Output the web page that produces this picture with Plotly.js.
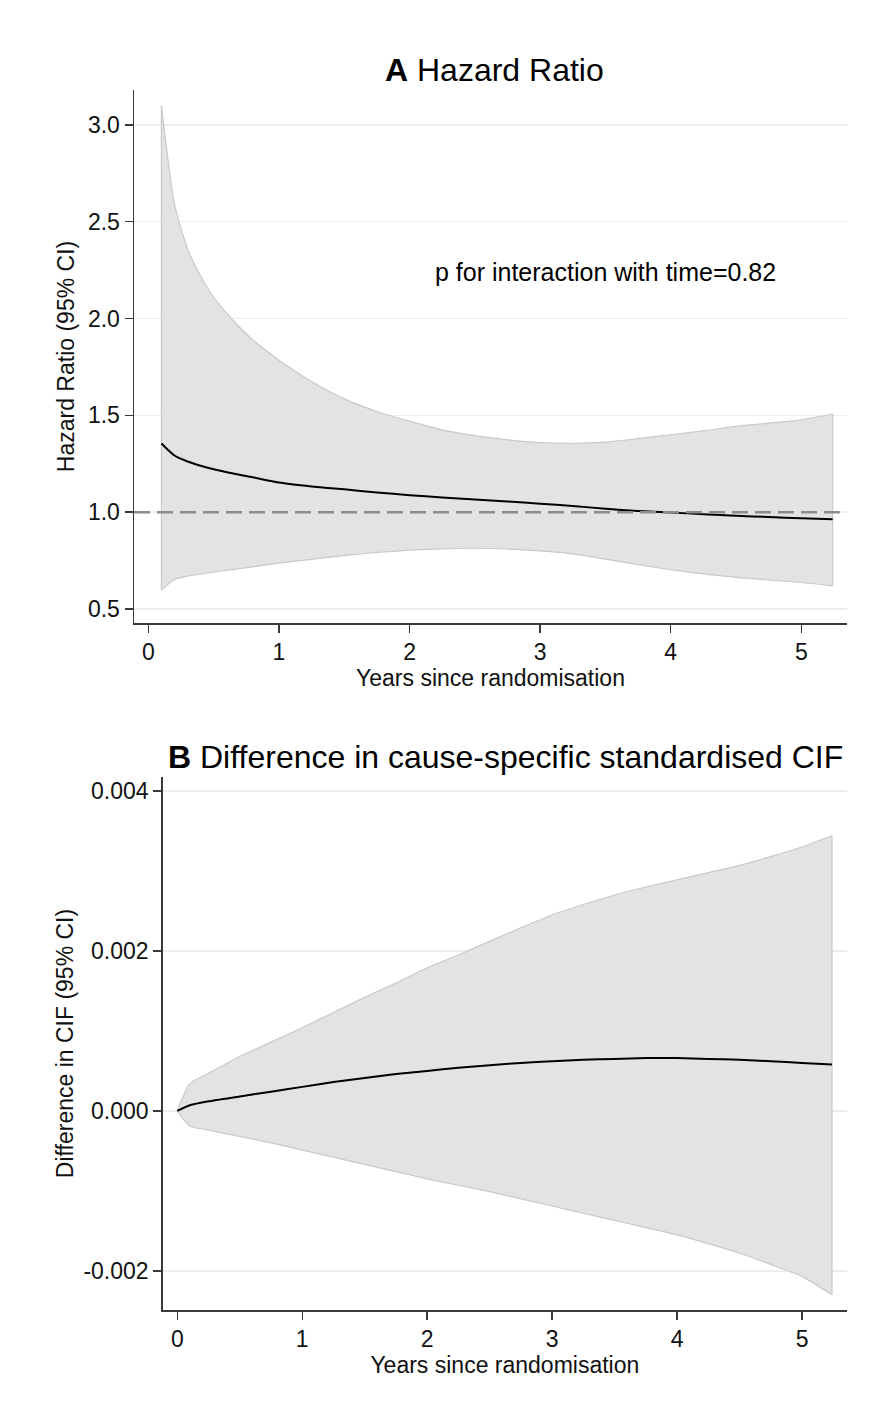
<!DOCTYPE html>
<html>
<head>
<meta charset="utf-8">
<script src="https://cdn.plot.ly/plotly-3.0.1.min.js"></script>
<style>html,body{margin:0;padding:0;background:#fff;}#chart{width:878px;height:1412px;}</style>
</head>
<body>
<div id="chart"></div>
<script>
// ---- Panel A: Hazard ratio over time ----
const yearsA = [0.1,0.2,0.3,0.4,0.5,0.65,0.8,1.0,1.25,1.5,1.75,2.0,2.25,2.5,2.75,3.0,3.25,3.5,3.75,4.0,4.25,4.5,4.75,5.0,5.24];
const hrEstimate = [1.355,1.293,1.262,1.240,1.222,1.200,1.180,1.153,1.133,1.118,1.102,1.088,1.076,1.066,1.055,1.044,1.032,1.018,1.006,0.998,0.990,0.982,0.975,0.969,0.964];
const hrUpper = [3.10,2.59,2.36,2.22,2.11,1.99,1.89,1.785,1.675,1.585,1.52,1.47,1.425,1.395,1.374,1.360,1.356,1.362,1.380,1.400,1.420,1.443,1.460,1.477,1.507];
const hrLower = [0.598,0.653,0.670,0.681,0.690,0.705,0.718,0.737,0.757,0.776,0.792,0.804,0.811,0.814,0.810,0.800,0.785,0.758,0.729,0.703,0.682,0.664,0.650,0.637,0.620];
const hrReference = 1;
const hrTickVals = [0.5,1.0,1.5,2.0,2.5,3.0];
const hrTickText = ["0.5","1.0","1.5","2.0","2.5","3.0"];
const pInteraction = "p for interaction with time=0.82";

// ---- Panel B: Difference in CIF ----
const yearsB = [0,0.1,0.25,0.5,0.75,1.0,1.25,1.5,1.75,2.0,2.25,2.5,2.75,3.0,3.25,3.5,3.75,4.0,4.25,4.5,4.75,5.0,5.24];
const cifEstimate = [0,0.00007,0.00012,0.00018,0.00024,0.00030,0.00036,0.00041,0.00046,0.00050,0.00054,0.00057,0.00060,0.00062,0.00064,0.00065,0.00066,0.00066,0.00065,0.00064,0.00062,0.00060,0.00058];
const cifUpper = [0,0.00034,0.00047,0.00068,0.00086,0.00104,0.00123,0.00142,0.00160,0.00179,0.00195,0.00212,0.00229,0.00245,0.00258,0.00270,0.00280,0.00289,0.00298,0.00307,0.00318,0.00330,0.00344];
const cifLower = [0,-0.00019,-0.00024,-0.00032,-0.00040,-0.00049,-0.00058,-0.00067,-0.00076,-0.00085,-0.00093,-0.00101,-0.00110,-0.00119,-0.00128,-0.00137,-0.00146,-0.00155,-0.00166,-0.00178,-0.00192,-0.00207,-0.00230];
const cifTickVals = [-0.002,0,0.002,0.004];
const cifTickText = ["-0.002","0.000","0.002","0.004"];

const xTickVals = [0,1,2,3,4,5];
const xTickText = ["0","1","2","3","4","5"];
const xTitle = "Years since randomisation";

const FONT = "Liberation Sans, Arial, sans-serif";
const W = 878, H = 1412;
const px = v => v / W;
const py = v => 1 - v / H;
const BAND_EDGE = "#c9c9c9";

function bandTraces(xs, up, lo, xa, ya) {
  const n = xs.length - 1;
  return [
    {x: xs, y: lo, xaxis: xa, yaxis: ya, type: "scatter", mode: "lines",
     line: {color: BAND_EDGE, width: 1.2, shape: "spline", smoothing: 0.6}, hoverinfo: "skip", showlegend: false},
    {x: xs, y: up, xaxis: xa, yaxis: ya, type: "scatter", mode: "lines", fill: "tonexty",
     fillcolor: "#e3e3e3",
     line: {color: BAND_EDGE, width: 1.2, shape: "spline", smoothing: 0.6}, hoverinfo: "skip", showlegend: false},
    {x: [xs[0], xs[0]], y: [lo[0], up[0]], xaxis: xa, yaxis: ya, type: "scatter", mode: "lines",
     line: {color: BAND_EDGE, width: 1.2}, hoverinfo: "skip", showlegend: false},
    {x: [xs[n], xs[n]], y: [lo[n], up[n]], xaxis: xa, yaxis: ya, type: "scatter", mode: "lines",
     line: {color: BAND_EDGE, width: 1.2}, hoverinfo: "skip", showlegend: false}
  ];
}
function est(xs, ys, xa, ya) {
  return {x: xs, y: ys, xaxis: xa, yaxis: ya, type: "scatter", mode: "lines",
    line: {color: "#000000", width: 2, shape: "spline", smoothing: 0.6}, showlegend: false};
}

const data = [].concat(
  bandTraces(yearsA, hrUpper, hrLower, "x", "y"),
  [est(yearsA, hrEstimate, "x", "y")],
  bandTraces(yearsB, cifUpper, cifLower, "x2", "y2"),
  [est(yearsB, cifEstimate, "x2", "y2")]
);

const axisCommon = {
  showline: true, linecolor: "#3a3a3a", linewidth: 1.5,
  ticks: "outside", ticklen: 8, tickwidth: 1.5, tickcolor: "#3a3a3a",
  tickfont: {family: FONT, size: 23, color: "#111"},
  zeroline: false, fixedrange: true, automargin: false
};
const titleFont = {family: FONT, size: 23, color: "#111"};

const layout = {
  width: W, height: H,
  margin: {l: 0, r: 0, t: 0, b: 0},
  paper_bgcolor: "#ffffff", plot_bgcolor: "#ffffff",
  font: {family: FONT, color: "#111"},
  showlegend: false,
  xaxis: Object.assign({}, axisCommon, {
    domain: [px(134), px(847)], anchor: "y",
    range: [-0.11, 5.35], tickvals: xTickVals, ticktext: xTickText, showgrid: false,
    title: {text: xTitle, font: titleFont, standoff: 0}
  }),
  yaxis: Object.assign({}, axisCommon, {
    domain: [py(623), py(90)], anchor: "x",
    range: [0.428, 3.18], tickvals: hrTickVals, ticktext: hrTickText,
    showgrid: true, gridcolor: "#e7eff0", gridwidth: 1.5,
    title: {text: "Hazard Ratio (95% CI)", font: titleFont, standoff: 7}
  }),
  xaxis2: Object.assign({}, axisCommon, {
    domain: [px(162.7), px(847)], anchor: "y2",
    range: [-0.117, 5.36], tickvals: xTickVals, ticktext: xTickText, showgrid: false,
    title: {text: xTitle, font: titleFont, standoff: 0}
  }),
  yaxis2: Object.assign({}, axisCommon, {
    domain: [py(1310), py(777)], anchor: "x2",
    range: [-0.00249, 0.004175], tickvals: cifTickVals, ticktext: cifTickText,
    showgrid: true, gridcolor: "#e7eff0", gridwidth: 1.5,
    title: {text: "Difference in CIF (95% CI)", font: titleFont, standoff: 3}
  }),
  shapes: [{
    type: "line", xref: "x domain", yref: "y",
    x0: 0, x1: 0.99, y0: hrReference, y1: hrReference,
    line: {color: "#8c8c8c", width: 2.5, dash: "16px,7px"}, layer: "above"
  }],
  annotations: [
    {text: "<b>A</b> Hazard Ratio", xref: "paper", yref: "paper", x: px(494.5), y: py(70),
     xanchor: "center", yanchor: "middle", showarrow: false, font: {family: FONT, size: 32, color: "#000"}},
    {text: "<b>B</b> Difference in cause-specific standardised CIF", xref: "paper", yref: "paper", x: px(505), y: py(757),
     xanchor: "center", yanchor: "middle", showarrow: false, font: {family: FONT, size: 32, color: "#000"}},
    {text: pInteraction, xref: "paper", yref: "paper", x: px(605), y: py(272),
     xanchor: "center", yanchor: "middle", showarrow: false, font: {family: FONT, size: 25, color: "#000"}}
  ]
};

Plotly.newPlot("chart", data, layout, {staticPlot: true, displayModeBar: false});
</script>
</body>
</html>
